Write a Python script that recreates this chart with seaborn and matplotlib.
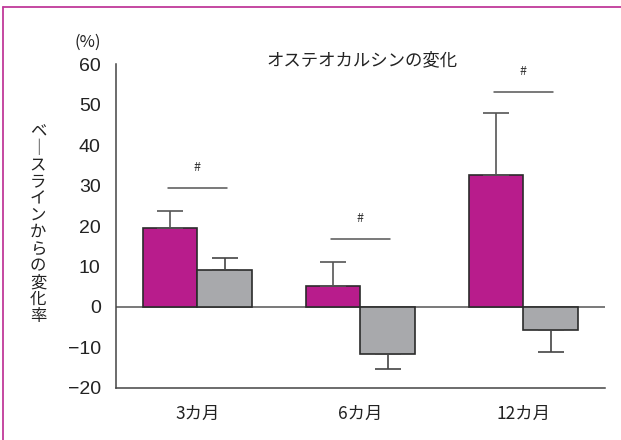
import matplotlib
matplotlib.use("Agg")
import matplotlib.pyplot as plt
import seaborn as sns
import pandas as pd
from matplotlib.lines import Line2D

# Data
months = ["3カ月", "6カ月", "12カ月"]
groups = ["投与群", "対照群"]
treated_mean = [19.4, 5.3, 32.5]
treated_err = [4.4, 5.7, 15.5]
control_mean = [9.2, -11.5, -5.8]
control_err = [2.8, -3.9, -5.2]
sig_line_y = [29.3, 16.7, 53.0]
sig_marks = ["#", "#", "#"]
yticks = [-20, -10, 0, 10, 20, 30, 40, 50, 60]

sns.set_theme(style="white")
plt.rcParams["font.family"] = ["Noto Sans CJK JP", "DejaVu Sans"]
plt.rcParams["axes.unicode_minus"] = True

df = pd.DataFrame({
    "month": months * 2,
    "group": [groups[0]] * 3 + [groups[1]] * 3,
    "value": treated_mean + control_mean,
})

fig = plt.figure(figsize=(6.21, 4.40), dpi=100)
ax = fig.add_axes([0.1868, 0.1182, 0.7874, 0.7363])

magenta = "#b81c8c"
gray = "#a8a9ac"
edge = "#2b2b2b"

sns.barplot(data=df, x="month", y="value", hue="group", order=months,
            hue_order=groups, palette=[magenta, gray], width=0.67,
            edgecolor=edge, linewidth=1.2, errorbar=None, legend=False, ax=ax,
            saturation=1)

# One-sided error bars from the bar tops
bars = list(ax.patches)[:6]
errs = treated_err + control_err
means = treated_mean + control_mean
ecolors = ["#555555"] * 3 + ["#444444"] * 3
for b, m, e, c in zip(bars, means, errs, ecolors):
    xc = b.get_x() + b.get_width() / 2
    if e >= 0:
        yerr = [[0], [e]]
    else:
        yerr = [[-e], [0]]
    ax.errorbar([xc], [m], yerr=yerr, fmt="none", ecolor=c, elinewidth=1.2,
                capsize=9.5, capthick=1.2, zorder=1)

# Zero line
ax.axhline(0, color="#555555", lw=1.1, zorder=0.5)

# Significance markers
for i, (ly, s) in enumerate(zip(sig_line_y, sig_marks)):
    ax.plot([i - 0.18, i + 0.18], [ly, ly], color="#555555", lw=1.1)
    ax.text(i, ly + 5.2, s, ha="center", va="center", fontsize=9, color="#333333")

ax.set_xlim(-0.5, 2.5)
ax.set_ylim(-20, 60)
ax.set_yticks(yticks)
ax.set_yticklabels([f"{v}".replace("-", "−") for v in yticks], fontsize=14,
                   family=["Liberation Sans", "DejaVu Sans"])
ax.set_xticks(range(len(months)))
ax.set_xticklabels(months, fontsize=12.5)
ax.set_xlabel("")
ax.set_ylabel("")

for side in ["top", "right"]:
    ax.spines[side].set_visible(False)
for side in ["left", "bottom"]:
    ax.spines[side].set_color("#444444")
    ax.spines[side].set_linewidth(1.1)
ax.tick_params(axis="both", direction="out", length=7, width=1.0,
               color="#444444", labelcolor="#222222", pad=3)
ax.tick_params(axis="y", pad=4)
ax.tick_params(axis="x", pad=5)

# Title, unit and vertical y label
fig.text(362 / 621, 1 - 60 / 440, "オステオカルシンの変化", ha="center",
         va="center", fontsize=12.5, color="#222222")
fig.text(88 / 621, 1 - 42 / 440, "(%)", ha="center", va="center",
         fontsize=12, color="#222222")
ylabel = "ベ\n｜\nス\nラ\nイ\nン\nか\nら\nの\n変\n化\n率"
fig.text(38 / 621, 1 - 224 / 440, ylabel, ha="center", va="center",
         fontsize=11.8, color="#222222", linespacing=0.98)

# Frame lines
border = "#c0399a"
fig.add_artist(Line2D([3 / 621, 1], [1 - 7 / 440, 1 - 7 / 440],
                      color=border, lw=1.3, transform=fig.transFigure))
fig.add_artist(Line2D([3 / 621, 3 / 621], [0, 1 - 7 / 440],
                      color=border, lw=1.3, transform=fig.transFigure))

fig.savefig("out.png", dpi=100)
